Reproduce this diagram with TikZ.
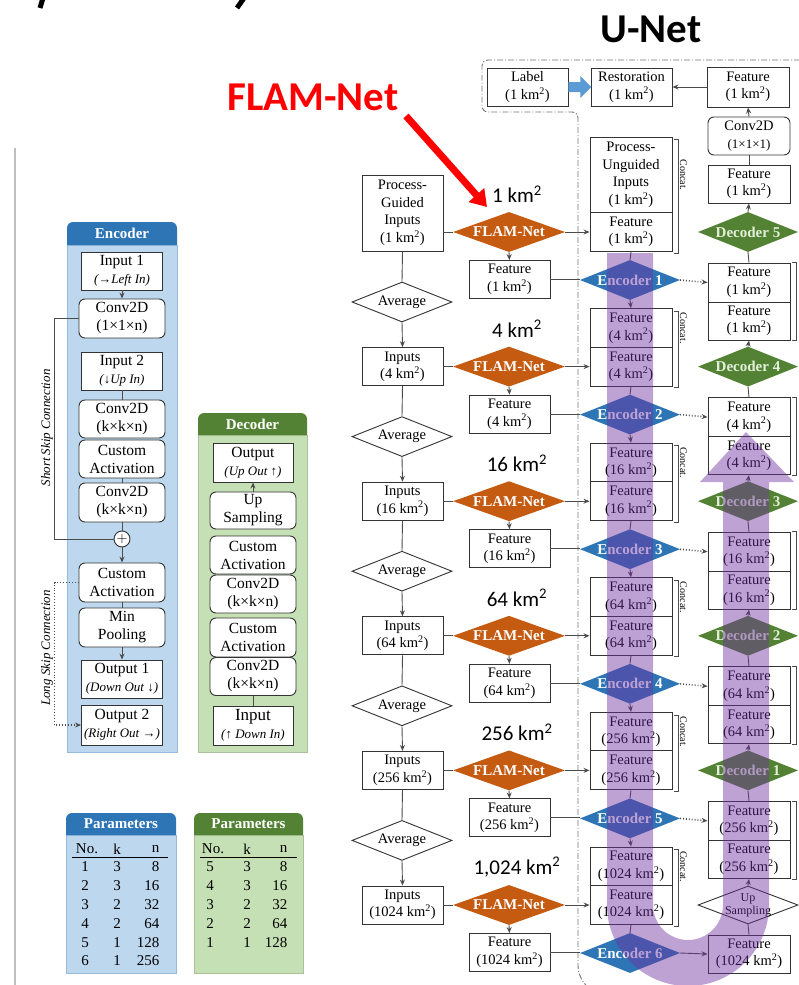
\documentclass[tikz,border=0pt]{standalone}
\usepackage{fontspec}
\setmainfont{Liberation Serif}
\newfontfamily\calib{Carlito}
\usetikzlibrary{shapes.geometric,arrows.meta,calc}
\definecolor{encblue}{HTML}{2E75B6}
\definecolor{enclight}{HTML}{BDD7EE}
\definecolor{decgreen}{HTML}{548235}
\definecolor{declight}{HTML}{C5E0B4}
\definecolor{dectext}{HTML}{E2F0D9}
\definecolor{flamorange}{HTML}{C55A11}
\definecolor{unetpurple}{HTML}{7030A0}
\definecolor{labelblue}{HTML}{5B9BD5}
\newcommand{\kms}{km\textsuperscript{2}}
\tikzset{
  box/.style={draw=black!80, line width=0.9pt, fill=white, minimum width=81pt,
    minimum height=38pt, inner sep=1pt, align=center, font=\fontsize{14.5}{17.5}\selectfont},
  rbox/.style={box, rounded corners=6pt, minimum width=86pt},
  pbox/.style={box, font=\fontsize{15.5}{18}\selectfont},
  prbox/.style={rbox, font=\fontsize{15.5}{18}\selectfont},
  diam/.style={diamond, aspect=2.5, inner sep=0pt, minimum width=100pt,
    minimum height=40pt, align=center, font=\fontsize{15}{17}\selectfont\bfseries},
  flam/.style={diam, fill=flamorange, text=white, minimum width=112pt},
  encd/.style={diam, fill=encblue, text=white},
  decd/.style={diam, fill=decgreen, text=dectext},
  avg/.style={diam, draw=black!80, line width=0.9pt, fill=white, font=\fontsize{14.5}{17}\selectfont},
  area/.style={font=\calib\fontsize{21}{24}\selectfont},
  conn/.style={draw=black!70, line width=0.9pt},
  arr/.style={conn, ->},
  udash/.style={draw=black!55, line width=0.9pt, dash pattern=on 6pt off 2pt on 1pt off 2pt},
  hdr/.style={text=white, font=\fontsize{15}{17}\selectfont\bfseries},
  tab/.style={font=\fontsize{15}{17}\selectfont},
  note/.style={font=\fontsize{13}{15}\selectfont\itshape},
}
\begin{document}
\begin{tikzpicture}[x=1pt,y=-1pt,>={Stealth[length=6pt,width=5pt]}]
\useasboundingbox (0,0) rectangle (798,985);

% cropped caption and page rule
\draw[line width=5pt] (43,-2) -- (40,8);
\draw[line width=5pt] (244,-2) -- (237,8);
\draw[black!25, line width=1.5pt] (15,148) -- (15,985);

% titles
\node[font=\calib\bfseries\fontsize{41}{41}\selectfont, text=red] (flt) at (313,97) {FLAM-Net};
\node[font=\calib\bfseries\fontsize{41}{41}\selectfont] (unt) at (651,29) {U-Net};

% U-Net frame
\draw[udash] (800,60) [rounded corners=6pt] -- (482,60) -- (482,112) -- (578,112)
  [rounded corners=30pt] -- (578,995) -- (800,995);

% ---------------- Encoder panel ----------------
\filldraw[fill=enclight, draw=encblue!50] (67,245) rectangle (177,752);
\fill[encblue] (67,245) [rounded corners=6pt] -- (67,222) -- (177,222) [sharp corners] -- (177,245) -- cycle;
\node[hdr] (ehd) at (122,233.5) {Encoder};
\node[pbox] (ein1) at (122,271) {Input 1\\{\itshape\fontsize{13}{15}\selectfont (→Left In)}};
\node[prbox, minimum height=39pt] (ecv1) at (122,318.5) {Conv2D\\(1×1×n)};
\node[pbox] (ein2) at (122,371) {Input 2\\{\itshape\fontsize{13}{15}\selectfont (↓Up In)}};
\node[prbox] (ecv2) at (122,419) {Conv2D\\(k×k×n)};
\node[prbox] (eca1) at (122,459) {Custom\\Activation};
\node[prbox, minimum height=39pt] (ecv3) at (122,502.5) {Conv2D\\(k×k×n)};
\node[circle, draw=black!80, line width=0.9pt, fill=white, minimum size=16pt, inner sep=0pt] (plus) at (122,539) {\fontsize{15}{15}\selectfont$+$};
\node[prbox, minimum height=39pt] (eca2) at (122,582.5) {Custom\\Activation};
\node[prbox, minimum height=39pt] (emp) at (122,627.5) {Min\\Pooling};
\node[pbox] (eo1) at (122,679) {Output 1\\{\itshape\fontsize{13}{15}\selectfont (Down Out ↓)}};
\node[pbox, minimum height=40pt] (eo2) at (122,725) {Output 2\\{\itshape\fontsize{13}{15}\selectfont (Right Out →)}};
\draw[arr] (ein1) -- (ecv1);
\draw[conn] (ein2) -- (ecv2);
\draw[conn] (eca1) -- (ecv3);
\draw[conn] (ecv3) -- (plus);
\draw[arr] (plus) -- (eca2);
\draw[conn] (eca2) -- (emp);
\draw[arr] (emp) -- (eo1);
\draw[conn, line width=0.7pt] (ecv1.west) -- ++(-24,0) |- (plus.west);
\draw[arr, dotted, line width=1.6pt] (eca2.west) -- ++(-24,0) |- (eo2.west);
\node[note, rotate=90] (ssk) at (47,428) {Short Skip Connection};
\node[note, rotate=90] (lsk) at (47,648) {Long Skip Connection};

% ---------------- Decoder panel ----------------
\filldraw[fill=declight, draw=decgreen!50] (198,435) rectangle (307,752);
\fill[decgreen] (198,435) [rounded corners=6pt] -- (198,413) -- (307,413) [sharp corners] -- (307,435) -- cycle;
\node[hdr] (dhd) at (252.5,424) {Decoder};
\node[pbox, minimum width=80pt, minimum height=39pt] (dout) at (253,462.5) {Output\\{\itshape\fontsize{13}{15}\selectfont (Up Out ↑)}};
\node[prbox, minimum height=37pt] (dup) at (253,510.5) {Up\\Sampling};
\node[prbox] (dca1) at (253,555) {Custom\\Activation};
\node[prbox] (dcv1) at (253,594) {Conv2D\\(k×k×n)};
\node[prbox, minimum height=39pt] (dca2) at (253,637.5) {Custom\\Activation};
\node[prbox] (dcv2) at (253,676.5) {Conv2D\\(k×k×n)};
\node[pbox, minimum width=80pt, minimum height=39pt] (din) at (253,725.5) {{\fontsize{17}{18}\selectfont Input}\\{\itshape\fontsize{13}{15}\selectfont (↑ Down In)}};
\draw[arr] (dup) -- (dout);
\draw[conn] (din) -- (dcv2);

% ---------------- Parameter tables ----------------
\filldraw[fill=enclight, draw=encblue!50] (66,835) rectangle (176,973);
\fill[encblue] (66,835) [rounded corners=6pt] -- (66,813) -- (176,813) [sharp corners] -- (176,835) -- cycle;
\node[hdr] (pehd) at (121,824) {Parameters};
\node[tab] (pa0) at (87,849) {No.};
\node[tab] (pb0) at (117,849) {k};
\node[tab, anchor=east] (pc0) at (163,849) {n};
\draw[line width=0.9pt] (72,857) -- (168,857);
\foreach \a/\k/\n [count=\r] in {1/3/8,2/3/16,3/2/32,4/2/64,5/1/128,6/1/256}{
  \pgfmathsetmacro\ty{867+(\r-1)*18.8}
  \node[tab] (pa\r) at (85,\ty) {\a};
  \node[tab] (pb\r) at (117,\ty) {\k};
  \node[tab, anchor=east] (pc\r) at (163,\ty) {\n};
}
\filldraw[fill=declight, draw=decgreen!50] (194,835) rectangle (303,973);
\fill[decgreen] (194,835) [rounded corners=6pt] -- (194,813) -- (303,813) [sharp corners] -- (303,835) -- cycle;
\node[hdr] (pdhd) at (248.5,824) {Parameters};
\node[tab] (qa0) at (213,849) {No.};
\node[tab] (qb0) at (247,849) {k};
\node[tab, anchor=east] (qc0) at (291,849) {n};
\draw[line width=0.9pt] (200,857) -- (297,857);
\foreach \a/\k/\n [count=\r] in {5/3/8,4/3/16,3/2/32,2/2/64,1/1/128}{
  \pgfmathsetmacro\ty{867+(\r-1)*18.8}
  \node[tab] (qa\r) at (210,\ty) {\a};
  \node[tab] (qb\r) at (247,\ty) {\k};
  \node[tab, anchor=east] (qc\r) at (291,\ty) {\n};
}

% ---------------- U-Net: input side ----------------
\node[box, minimum height=76pt] (in1) at (402.5,213) {Process-\\Guided\\Inputs\\(1~\kms)};
\node[box, minimum width=82pt, minimum height=76pt] (ca1) at (631,175) {Process-\\Unguided\\Inputs\\(1~\kms)};
\foreach \i/\a in {2/4,3/16,4/64,5/256,6/1024}{
  \pgfmathsetmacro\yy{232+(\i-1)*134.6}
  \node[box] (in\i) at (402.5,\yy) {Inputs\\(\a~\kms)};
  \node[box, minimum width=82pt, minimum height=39pt] (ca\i) at (631,\yy-38.5) {Feature\\(\a~\kms)};
}
\foreach \i/\a/\b in {1/1/1,2/4/4,3/16/16,4/64/64,5/256/256,6/1024/{1,024}}{
  \pgfmathsetmacro\yy{232+(\i-1)*134.6}
  \node[area] (ar\i) at (517,\yy-38) {\b~km\textsuperscript{2}};
  \node[flam] (fl\i) at (509,\yy) {FLAM-Net};
  \node[box] (ft\i) at (509.5,\yy+47.5) {Feature\\(\a~\kms)};
  \node[box, minimum width=82pt, minimum height=39pt] (cb\i) at (631,\yy) {Feature\\(\a~\kms)};
  \node[encd] (en\i) at (630,\yy+48) {Encoder \i};
  \draw[conn] (in\i.east |- fl\i.west) -- (fl\i.west);
  \draw[arr] (fl\i.south) -- (ft\i.north);
  \draw[arr] (fl\i.east) -- (cb\i.west);
  \draw[conn] (ft\i.east) -- (ft\i.east -| en\i.west);
  \draw[conn] (cb\i.south) -- (en\i.north);
  \draw[conn, line width=0.7pt] ($(ca\i.north east)+(2,3)$) -- ++(4,0) |- ($(cb\i.south east)+(2,1)$);
  \node[rotate=-90, font=\fontsize{10}{12}\selectfont] (cc\i) at ($(ca\i.east)+(11,0)$) {Concat.};
}

% ---------------- U-Net: decoder side ----------------
\node[box] (lb) at (527.5,87) {Label\\(1~\kms)};
\node[box] (rs) at (631.5,87) {Restoration\\(1~\kms)};
\node[box, minimum width=82pt, minimum height=40pt] (ftop) at (748,87) {Feature\\(1~\kms)};
\node[rbox, minimum width=82pt] (cv) at (749,136) {Conv2D\\{\fontsize{13}{15}\selectfont(1×1×1)}};
\node[box, minimum width=82pt] (f1) at (749,184) {Feature\\(1~\kms)};
\fill[labelblue] ($(lb.east)+(0,-5)$) -- ++(12,0) -- ++(0,-6) -- ++(11,11) -- ++(-11,11) -- ++(0,-6) -- ++(-12,0) -- cycle;
\draw[arr] (ftop.west) -- (rs.east);
\draw[arr] (cv.north) -- (ftop.south);
\draw[conn] (f1.north) -- (cv.south);

\foreach \i/\a in {1/1,2/4,3/16,4/64,5/256}{
  \pgfmathsetmacro\yy{232+(\i-1)*134.6}
  \pgfmathtruncatemacro\d{6-\i}
  \pgfmathtruncatemacro\j{\i+1}
  \node[box, minimum width=82pt, minimum height=39pt] (da\i) at (749,\yy+50.5) {Feature\\(\a~\kms)};
  \node[box, minimum width=82pt] (db\i) at (749,\yy+89) {Feature\\(\a~\kms)};
  \node[decd] (de\i) at (748,\yy) {Decoder \d};
  \node[avg] (av\i) at (402,\yy+70) {Average};
  \draw[conn] (in\i.south) -- (av\i.north);
  \draw[arr] (av\i.south) -- (in\j.north);
  \draw[arr] (en\i.south) -- (ca\j.north);
  \draw[arr, dotted, line width=1.6pt] (en\i.east) -- (da\i.west);
  \draw[conn] (da\i.north) -- (de\i.south);
  \draw[conn, line width=0.7pt] ($(da\i.north east)+(2,0)$) -- ++(4,0) |- ($(db\i.south east)+(2,0)$);
  \node[rotate=-90, font=\fontsize{10}{12}\selectfont] (dc\i) at ($(da\i.east)+(14,0)$) {Concat.};
}
\foreach \i in {2,...,5}{
  \pgfmathtruncatemacro\k{\i-1}
  \draw[arr] (de\i.north) -- (db\k.south);
}
\draw[arr] (de1.north) -- (f1.south);

\node[diam, draw=black!80, line width=0.9pt, fill=white, minimum height=38pt] (up) at (748,905) {};
\node[font=\fontsize{12}{13}\selectfont, align=center] (upt) at (up) {Up\\Sampling};
\node[box, minimum width=82pt] (fb) at (749,954) {Feature\\(1024~\kms)};
\draw[arr] (en6.east) -- (fb.west);
\draw[conn] (fb.north) -- (up.south);
\draw[arr] (up.north) -- (db5.south);

% pointer to the first FLAM-Net
\coordinate (fltip) at (487,207);
\draw[red, line width=7pt, -{Triangle[length=16pt,width=20pt]}] ($(flt.south east)+(4,2)$) -- (fltip);

% U-shaped flow band
\fill[unetpurple, fill opacity=0.45] (607,253) -- (607,905) arc (180:0:81) -- (769,482)
  -- (794,482) -- (746,432) -- (700,482) -- (723,482) -- (723,905) arc (0:180:35) -- (653,253) -- cycle;
\end{tikzpicture}
\end{document}
